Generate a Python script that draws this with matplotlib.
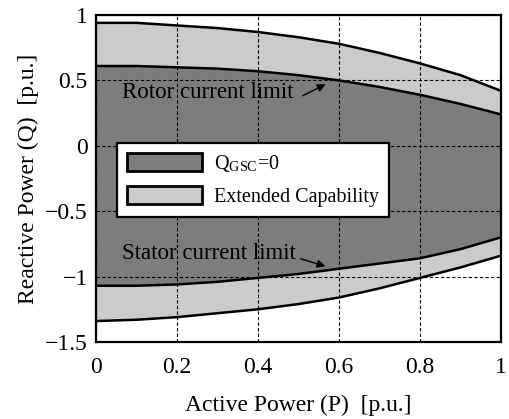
import numpy as np
import matplotlib
matplotlib.use("Agg")
import matplotlib.pyplot as plt
from matplotlib.patches import Patch

plt.rcParams['font.family'] = ['Liberation Serif', 'DejaVu Serif']
plt.rcParams['mathtext.fontset'] = 'stix'

# Potência ativa (p.u.)
P = [0.0, 0.1, 0.2, 0.3, 0.4, 0.5, 0.6, 0.7, 0.8, 0.9, 1.0]
# Limites de potência reativa (p.u.)
q_ext_max = [0.94, 0.94, 0.92, 0.90, 0.87, 0.83, 0.78, 0.71, 0.63, 0.54, 0.42]
q_rotor = [0.61, 0.61, 0.60, 0.59, 0.57, 0.54, 0.50, 0.45, 0.39, 0.32, 0.24]
q_stator = [-1.07, -1.07, -1.06, -1.04, -1.01, -0.98, -0.94, -0.90, -0.86, -0.79, -0.70]
q_ext_min = [-1.34, -1.33, -1.31, -1.28, -1.25, -1.21, -1.16, -1.09, -1.01, -0.93, -0.84]

x_ticks = [0, 0.2, 0.4, 0.6, 0.8, 1]
x_labels = ['0', '0.2', '0.4', '0.6', '0.8', '1']
y_ticks = [-1.5, -1, -0.5, 0, 0.5, 1]
y_labels = ['\u22121.5', '\u22121', '\u22120.5', '0', '0.5', '1']

dark = '#7d7d7d'
light = '#cbcbcb'

fig = plt.figure(figsize=(5.09, 4.19), dpi=100)
ax = fig.add_axes([0.1886, 0.1838, 0.7957, 0.7804])

# Áreas de capacidade
ax.fill_between(P, q_ext_min, q_ext_max, color=light, lw=0)
ax.fill_between(P, q_stator, q_rotor, color=dark, lw=0)

for q in (q_ext_max, q_rotor, q_stator, q_ext_min):
    ax.plot(P, q, color='black', lw=1.8)

ax.set_xlim(0, 1)
ax.set_ylim(-1.5, 1)
ax.set_xticks(x_ticks)
ax.set_xticklabels(x_labels)
ax.set_yticks(y_ticks)
ax.set_yticklabels(y_labels)
ax.tick_params(labelsize=17, length=0)
ax.tick_params(axis='x', pad=11)
ax.tick_params(axis='y', pad=6)
ax.grid(True, color='black', linestyle=(0, (3, 2)), lw=0.8)
ax.set_axisbelow(False)
for s in ax.spines.values():
    s.set_linewidth(1.6)

ax.set_xlabel('Active Power (P)  [p.u.]', fontsize=17, labelpad=12)
ax.set_ylabel('Reactive Power (Q)  [p.u.]', fontsize=17, labelpad=4)

# Anotações
ax.text(0.064, 0.41, 'Rotor current limit', fontsize=16.5, va='center', ha='left')
ax.annotate('', xy=(0.573, 0.48), xytext=(0.504, 0.373),
            arrowprops=dict(arrowstyle='-|>', color='black', lw=1, mutation_scale=12))
ax.text(0.064, -0.82, 'Stator current limit', fontsize=16.5, va='center', ha='left')
ax.annotate('', xy=(0.573, -0.927), xytext=(0.499, -0.858),
            arrowprops=dict(arrowstyle='-|>', color='black', lw=1, mutation_scale=12))

handles = [Patch(facecolor=dark, edgecolor='black', lw=2),
           Patch(facecolor=light, edgecolor='black', lw=2)]
leg = ax.legend(handles, [r'Q$_{\mathregular{GSC}}$=0', 'Extended Capability'],
                loc='upper left', bbox_to_anchor=(0.052, 0.609), borderaxespad=0,
                fontsize=14.5, fancybox=False, framealpha=1, edgecolor='black',
                handlelength=3.7, handleheight=1.0, labelspacing=0.6,
                handletextpad=0.6, borderpad=0.5)
leg.get_frame().set_linewidth(1.6)

plt.savefig('out.png', dpi=100)
